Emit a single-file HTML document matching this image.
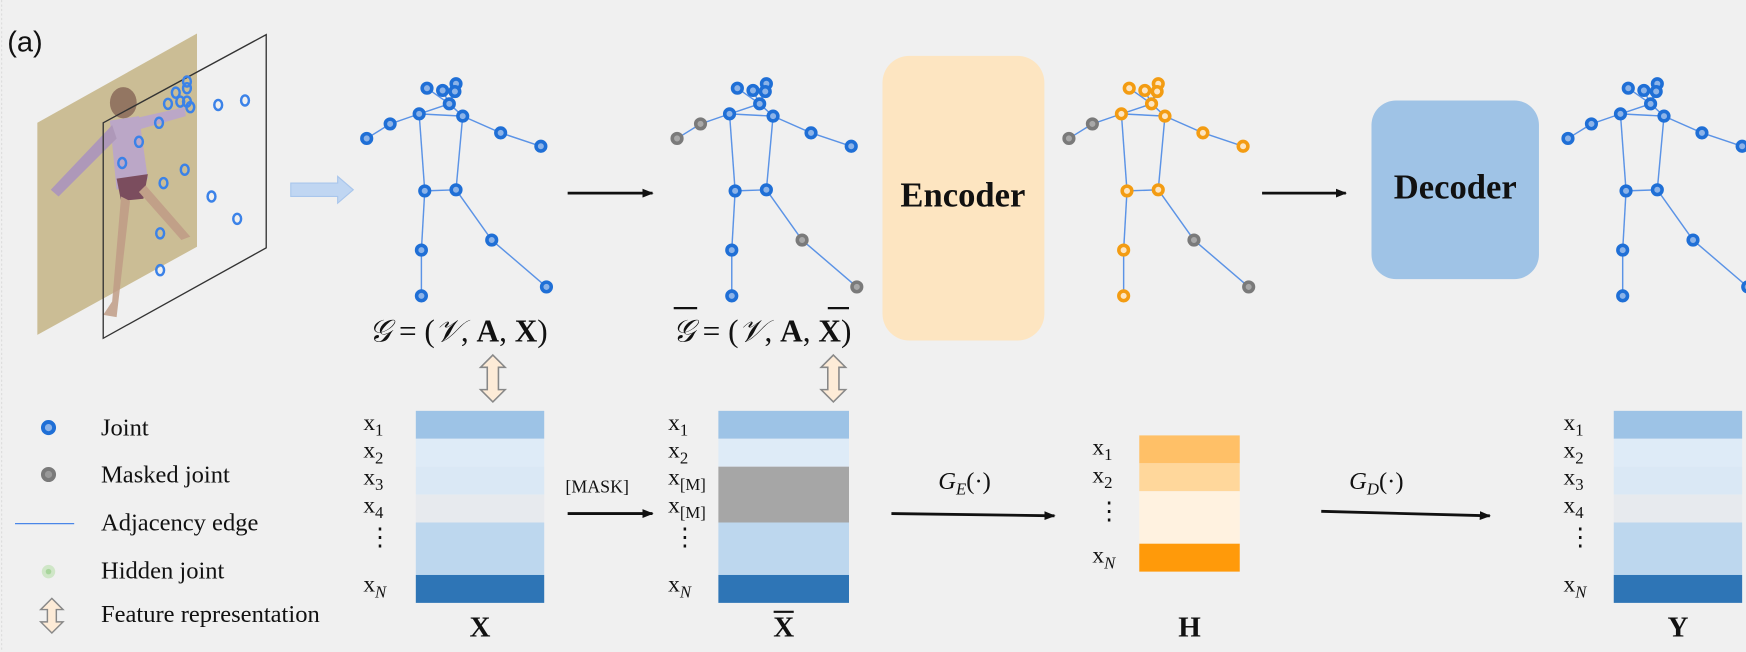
<!DOCTYPE html>
<html><head><meta charset="utf-8">
<style>
html,body{margin:0;padding:0;background:#f0f0f0;}
svg{display:block;}
.s{font-family:"Liberation Serif","DejaVu Serif",serif;}
</style></head>
<body>
<svg width="1746" height="652" viewBox="0 0 1563 584" xmlns="http://www.w3.org/2000/svg">
<defs>
<marker id="ah" markerWidth="10" markerHeight="8" refX="9" refY="4" orient="auto" markerUnits="userSpaceOnUse"><path d="M0,0 L10,4 L0,8 z" fill="#111"/></marker>
</defs>
<rect x="0" y="0" width="1563" height="584" fill="#f0f0f0"/>
<line x1="1" y1="0" x2="1" y2="584" stroke="#ddd" stroke-dasharray="2,2"/>
<text x="6" y="46" font-family="Liberation Sans, sans-serif" font-size="26" fill="#111">(a)</text>

<g>
<polygon points="33,110 176,30 176,221 33,300" fill="#cbbd95"/>
<g opacity="0.85">
<ellipse cx="110" cy="92" rx="12" ry="14" fill="#8a6a5a"/>
<path d="M98,108 L124,104 L132,160 L104,170 Z" fill="#b9a4d0"/>
<path d="M100,112 L45,170 L52,176 L104,124 Z" fill="#a992c0"/>
<path d="M120,106 L165,96 L166,104 L124,116 Z" fill="#b9a4d0"/>
<path d="M104,160 L132,156 L128,178 L108,180 Z" fill="#6e3a55"/>
<path d="M108,176 L100,270 L92,282 L104,284 L116,180 Z" fill="#c09c86"/>
<path d="M124,172 L162,215 L170,212 L130,166 Z" fill="#c09c86"/>
</g>
<polygon points="92,110 238,31 238,222 92,303" fill="none" stroke="#333" stroke-width="1.2"/>
<g id="pdots" fill="none" stroke="#3b82e8" stroke-width="2.2"></g>
</g>

<g>
<path d="M260,164 L302,164 L302,158 L316,170 L302,182 L302,176 L260,176 Z" fill="#c0d6f2" stroke="#a9c6ec" stroke-width="1"/>
</g>

<g id="skels"></g>

<line x1="508" y1="173" x2="584" y2="173" stroke="#111" stroke-width="2.5" marker-end="url(#ah)"/>
<rect x="790" y="50" width="145" height="255" rx="24" fill="#fde5c1"/>
<text x="862" y="185" text-anchor="middle" class="s" font-weight="bold" font-size="31" fill="#111">Encoder</text>
<line x1="1130" y1="173" x2="1205" y2="173" stroke="#111" stroke-width="2.5" marker-end="url(#ah)"/>
<rect x="1228" y="90" width="150" height="160" rx="22" fill="#9fc3e6"/>
<text x="1303" y="178" text-anchor="middle" class="s" font-weight="bold" font-size="31" fill="#111">Decoder</text>

<g class="s" font-size="28" fill="#111">
<text x="330" y="306"><tspan font-style="italic">𝒢</tspan> = (<tspan font-style="italic">𝒱</tspan>, <tspan font-weight="bold">A</tspan>, <tspan font-weight="bold">X</tspan>)</text>
</g>
<g class="s" font-size="28" fill="#111">
<text x="602" y="306"><tspan font-style="italic">𝒢</tspan> = (<tspan font-style="italic">𝒱</tspan>, <tspan font-weight="bold">A</tspan>, <tspan font-weight="bold">X</tspan>)</text>
<line x1="603" y1="276" x2="624" y2="276" stroke="#111" stroke-width="2"/>
<line x1="741" y1="276" x2="760" y2="276" stroke="#111" stroke-width="2"/>
</g>

<g id="dbl1"></g>
<g id="dbl2"></g>

<g class="s" font-size="22" fill="#111">
<g><circle cx="43" cy="383" r="5" fill="#8cb3e8" stroke="#1f6fd6" stroke-width="3.5"/><text x="90" y="390">Joint</text></g>
<g><circle cx="43" cy="425" r="5" fill="#999" stroke="#7a7a7a" stroke-width="3.5"/><text x="90" y="432">Masked joint</text></g>
<g><line x1="13" y1="469" x2="66" y2="469" stroke="#4a86e8" stroke-width="1.2"/><text x="90" y="475">Adjacency edge</text></g>
<g><circle cx="43" cy="512" r="6" fill="#cfe6c7"/><circle cx="43" cy="512" r="2.5" fill="#a8d59c"/><text x="90" y="518">Hidden joint</text></g>
<g><path d="M46,536 L56,546 L50,546 L50,557 L56,557 L46,567 L36,557 L42,557 L42,546 L36,546 Z" fill="#fdebd7" stroke="#888" stroke-width="1.3"/><text x="90" y="557">Feature representation</text></g>
</g>

<g id="mats"></g>

<text x="506" y="441" class="s" font-size="16" fill="#111">[MASK]</text>
<line x1="508" y1="460" x2="584" y2="460" stroke="#111" stroke-width="2.5" marker-end="url(#ah)"/>
<text x="840" y="438" class="s" font-size="22" fill="#111"><tspan font-style="italic">G</tspan><tspan font-style="italic" font-size="15" dy="5">E</tspan><tspan dy="-5">(·)</tspan></text>
<line x1="798" y1="460" x2="944" y2="462" stroke="#111" stroke-width="2.5" marker-end="url(#ah)"/>
<text x="1208" y="438" class="s" font-size="22" fill="#111"><tspan font-style="italic">G</tspan><tspan font-style="italic" font-size="15" dy="5">D</tspan><tspan dy="-5">(·)</tspan></text>
<line x1="1183" y1="458" x2="1334" y2="462" stroke="#111" stroke-width="2.5" marker-end="url(#ah)"/>

<script>
const NS='http://www.w3.org/2000/svg';
function mk(t,a,p){const e=document.createElementNS(NS,t);for(const k in a)e.setAttribute(k,a[k]);p.appendChild(e);return e;}
const planeDots=[[167,91],[150,93],[157,83],[167,73],[167,79],[161,91],[170,96],[195,94],[219,90],[142,110],[124,127],[109,146],[165,152],[146,164],[189,176],[212,196],[143,209],[143,242]];
const pd=document.getElementById('pdots');
planeDots.forEach(p=>{const c=mk('ellipse',{cx:p[0],cy:p[1],rx:3.5,ry:4.5},pd);

});

const joints=[[382,79],[396,81],[408,75],[407,82],[402,93],[375,102],[414,104],[349,111],[328,124],[448,119],[484,131],[380,171],[408,170],[377,224],[440,215],[377,265],[489,257]];
const edges=[[0,4],[1,4],[2,4],[3,4],[4,5],[4,6],[5,6],[5,7],[7,8],[6,9],[9,10],[5,11],[6,12],[11,12],[11,13],[13,15],[12,14],[14,16]];
const masked=[7,8,14,16];
const skelOffsets=[0,278,629,1076];
const skelNames=['input-skeleton','masked-skeleton','encoded-skeleton','reconstructed-skeleton'];
const sk=document.getElementById('skels');
skelOffsets.forEach((dx,si)=>{
 const g=mk('g',{},sk);
 
 
 edges.forEach(e=>{const a=joints[e[0]],b=joints[e[1]];
  const l=mk('line',{x1:a[0]+dx,y1:a[1],x2:b[0]+dx,y2:b[1],stroke:'#5b93e6','stroke-width':1.3},g);
  
  });
 joints.forEach((p,i)=>{
  let st='#1f6fd6',fl='#8cb3e8';
  if((si===1||si===2)&&masked.includes(i)){st='#7a7a7a';fl='#a8a8a8';}
  else if(si===2){st='#f39c12';fl='#fde5c1';}
  const c=mk('circle',{cx:p[0]+dx,cy:p[1],r:4.3,fill:fl,stroke:st,'stroke-width':3.2},g);
  
  });
});

function dbl(id,x,y1,y2){const g=document.getElementById(id);
 mk('path',{d:`M${x},${y1} L${x+11},${y1+11} L${x+5},${y1+11} L${x+5},${y2-11} L${x+11},${y2-11} L${x},${y2} L${x-11},${y2-11} L${x-5},${y2-11} L${x-5},${y1+11} L${x-11},${y1+11} Z`,fill:'#fdebd7',stroke:'#888','stroke-width':1.4},g);}
dbl('dbl1',441,318,360);dbl('dbl2',746,318,360);

const matX=[[368,25,'#9dc3e6'],[393,25,'#deebf7'],[418,25,'#dae8f5'],[443,25,'#e7eaee'],[468,47,'#bdd7ee'],[515,25,'#2e75b6']];
const matXb=[[368,25,'#9dc3e6'],[393,25,'#deebf7'],[418,50,'#a6a6a6'],[468,47,'#bdd7ee'],[515,25,'#2e75b6']];
const matH=[[390,25,'#ffc067'],[415,25,'#ffd79b'],[440,47,'#fff2e0'],[487,25,'#ff9a0a']];
const labX=[['x','1',385],['x','2',410],['x','3',434],['x','4',459],['⋮','',488],['x','N',530]];
const labXb=[['x','1',385],['x','2',410],['x','[M]',434],['x','[M]',459],['⋮','',488],['x','N',530]];
const labH=[['x','1',407],['x','2',432],['⋮','',465],['x','N',504]];
const mats=[[372,115,matX,labX,325,'X','feature-matrix-x',false],[643,117,matXb,labXb,598,'X','masked-feature-matrix',true],[1020,90,matH,labH,978,'H','latent-matrix-h',false],[1445,115,matX,labX,1400,'Y','reconstructed-matrix-y',false]];
const mg=document.getElementById('mats');
mats.forEach(m=>{
 const g=mk('g',{},mg);
 
 
 m[2].forEach(r=>{const rc=mk('rect',{x:m[0],y:r[0],width:m[1],height:r[1],fill:r[2]},g);
  
  });
 m[3].forEach(l=>{const t=mk('text',{x:m[4],y:l[2],'font-family':'Liberation Serif, serif','font-size':21,fill:'#111'},g);
  
  
  if(l[0]==='⋮'){t.setAttribute('x',m[4]+4);t.setAttribute('font-size',22);t.textContent='⋮';}
  else{t.textContent=l[0];const s=mk('tspan',{'font-size':15,dy:5,'font-style':l[1]==='N'?'italic':'normal'},t);s.textContent=l[1];}});
 const cx=m[0]+m[1]/2;
 const tl=mk('text',{x:cx,y:570,'text-anchor':'middle','font-family':'Liberation Serif, serif','font-weight':'bold','font-size':26,fill:'#111'},g);
 
 
 tl.textContent=m[5];
 if(m[7]){const b=mk('line',{x1:cx-9,y1:548,x2:cx+9,y2:548,stroke:'#111','stroke-width':2},g);
  
  }
});
</script>
</svg>
</body></html>
